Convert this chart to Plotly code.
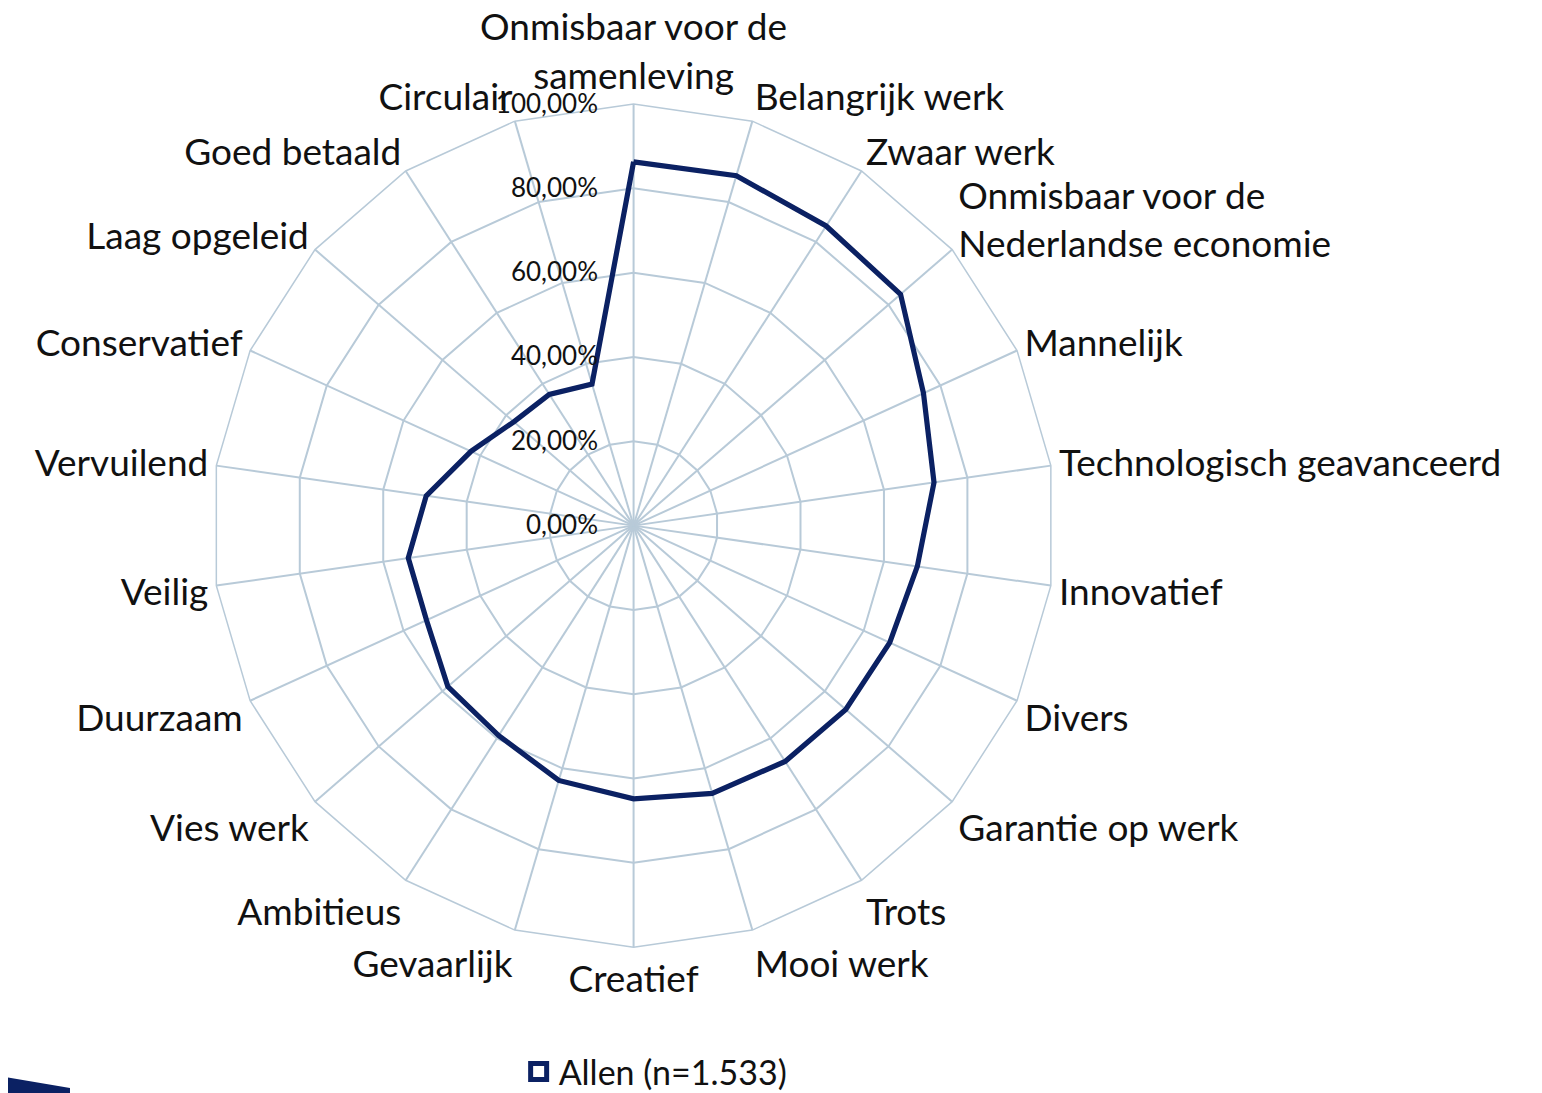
import plotly.graph_objects as go

categories = [
    "Onmisbaar voor de<br>samenleving", "Belangrijk werk", "Zwaar werk",
    "Onmisbaar voor de<br>Nederlandse economie", "Mannelijk",
    "Technologisch geavanceerd", "Innovatief", "Divers", "Garantie op werk",
    "Trots", "Mooi werk", "Creatief", "Gevaarlijk", "Ambitieus", "Vies werk",
    "Duurzaam", "Veilig", "Vervuilend", "Conservatief", "Laag opgeleid",
    "Goed betaald", "Circulair",
]
values = [0.863, 0.865, 0.845, 0.838, 0.756, 0.720, 0.680, 0.668, 0.666,
          0.665, 0.662, 0.648, 0.630, 0.592, 0.583, 0.540, 0.540, 0.497,
          0.424, 0.376, 0.370, 0.350]
series_name = "Allen (n=1.533)"
radial_ticks = [0, 0.2, 0.4, 0.6, 0.8, 1.0]

navy = "#0b2163"
grid = "#b8cad8"
font_family = "Lato, 'Open Sans', sans-serif"

fig = go.Figure()
fig.add_trace(go.Scatterpolar(
    r=values + values[:1],
    theta=categories + categories[:1],
    mode="lines",
    line=dict(color=navy, width=5.2),
    showlegend=False,
    hoverinfo="r+theta",
))
fig.add_trace(go.Scatterpolar(
    r=[None], theta=[categories[0]], mode="markers",
    marker=dict(symbol="square-open", size=22, color=navy, line=dict(width=5, color=navy)),
    name=series_name, showlegend=True,
))

fig.update_layout(
    width=1542, height=1093,
    margin=dict(l=0, r=0, t=0, b=0),
    paper_bgcolor="white",
    plot_bgcolor="white",
    separators=",.",
    font=dict(family=font_family, size=38, color="#111111"),
    polar=dict(
        domain=dict(x=[0.1312, 0.6802], y=[0.1368, 0.9117]),
        gridshape="linear",
        bgcolor="white",
        radialaxis=dict(
            range=[0, 1], tickvals=radial_ticks, tickformat=".2%",
            angle=90, tickangle=90, side="counterclockwise",
            showline=False, gridcolor=grid, gridwidth=1.5,
            ticks="outside", ticklen=26, tickcolor="rgba(0,0,0,0)",
            tickfont=dict(size=26, color="#111111"),
        ),
        angularaxis=dict(
            direction="clockwise", rotation=90,
            gridcolor=grid, gridwidth=1.5, linecolor=grid, linewidth=1.5,
            showline=True, ticks="", tickfont=dict(size=37, color="#111111"),
        ),
    ),
    legend=dict(orientation="h", x=0.42, xanchor="center", y=-0.005, yanchor="bottom",
                font=dict(size=34, color="#111111")),
    showlegend=True,
)

fig.add_shape(type="path", xref="paper", yref="paper",
              path="M -0.01 0.0195 L 0.0402 0.0073 L 0.0402 -0.01 L -0.01 -0.01 Z",
              fillcolor=navy, line=dict(width=0))

fig.write_html("out.html")
